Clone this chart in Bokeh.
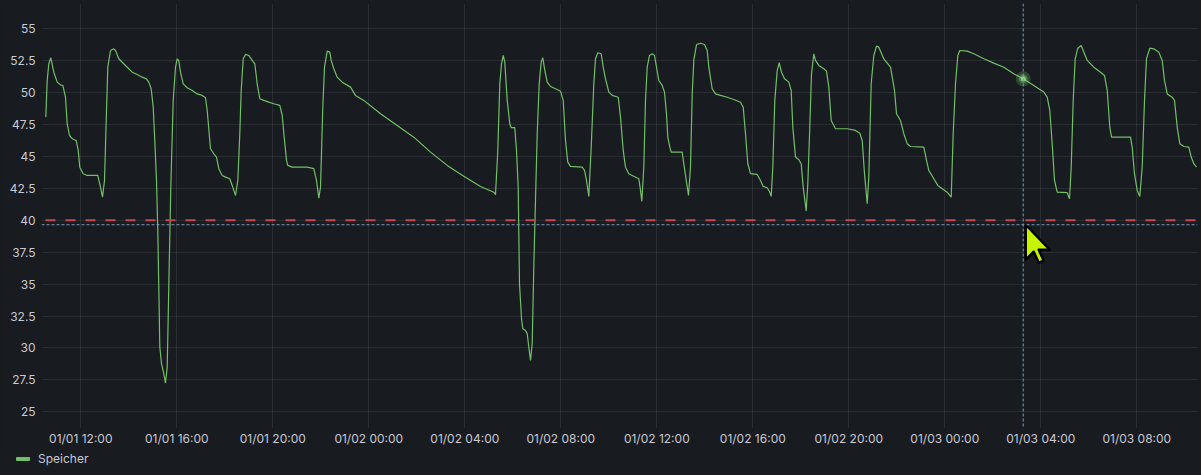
import pandas as pd
from bokeh.plotting import figure
from bokeh.layouts import column
from bokeh.models import (FixedTicker, DatetimeTickFormatter, Span,
                          ColumnDataSource, Range1d, Div)
from bokeh.embed import file_html
from bokeh.resources import INLINE

# ---------------- data ----------------
YEAR = 2024
series_name = "Speicher"

# hours since 01/01 00:00
hours = [
    10.542, 10.600, 10.667, 10.750, 10.875, 11.017, 11.154, 11.250, 11.363, 11.433,
    11.529, 11.642, 11.808, 11.892, 11.958, 12.100, 12.267, 12.708, 12.821, 12.904,
    12.988, 13.071, 13.125, 13.238, 13.375, 13.446, 13.583, 13.725, 13.933, 14.142,
    14.350, 14.558, 14.738, 14.833, 14.933, 15.017, 15.083, 15.154, 15.208, 15.250,
    15.292, 15.363, 15.458, 15.529, 15.600, 15.642, 15.696, 15.750, 15.850, 15.946,
    16.017, 16.083, 16.154, 16.267, 16.433, 16.642, 16.850, 17.058, 17.196, 17.267,
    17.404, 17.542, 17.654, 17.750, 17.892, 18.029, 18.208, 18.308, 18.446, 18.542,
    18.625, 18.683, 18.767, 18.863, 19.000, 19.142, 19.250, 19.350, 19.458, 19.625,
    19.833, 20.042, 20.292, 20.392, 20.488, 20.571, 20.625, 20.808, 21.433, 21.708,
    21.821, 21.917, 21.988, 22.083, 22.154, 22.267, 22.375, 22.433, 22.542, 22.683,
    22.892, 23.238, 23.446, 23.792, 24.488, 25.183, 25.875, 26.571, 27.267, 27.958,
    28.654, 29.208, 29.279, 29.375, 29.458, 29.529, 29.600, 29.667, 29.767, 29.875,
    29.933, 30.083, 30.154, 30.225, 30.279, 30.363, 30.417, 30.529, 30.600, 30.667,
    30.738, 30.808, 30.875, 30.946, 31.017, 31.100, 31.183, 31.250, 31.321, 31.433,
    31.571, 31.779, 31.988, 32.100, 32.196, 32.292, 32.404, 32.892, 32.988, 33.071,
    33.167, 33.267, 33.375, 33.446, 33.542, 33.683, 33.767, 33.863, 34.000, 34.142,
    34.392, 34.488, 34.600, 34.696, 34.833, 34.975, 35.250, 35.321, 35.375, 35.458,
    35.529, 35.600, 35.696, 35.808, 35.904, 35.988, 36.083, 36.225, 36.321, 36.404,
    36.458, 36.542, 36.600, 37.058, 37.125, 37.238, 37.321, 37.404, 37.475, 37.542,
    37.654, 37.821, 37.988, 38.100, 38.167, 38.308, 38.446, 38.654, 38.933, 39.208,
    39.488, 39.600, 39.696, 39.792, 39.904, 40.183, 40.321, 40.433, 40.600, 40.708,
    40.767, 40.833, 40.917, 41.017, 41.100, 41.196, 41.321, 41.500, 41.600, 41.667,
    41.779, 41.917, 42.017, 42.100, 42.225, 42.292, 42.375, 42.446, 42.542, 42.613,
    42.750, 42.958, 43.071, 43.167, 43.267, 43.446, 43.933, 44.279, 44.458, 44.558,
    44.654, 44.767, 44.833, 44.933, 45.042, 45.154, 45.250, 45.458, 45.738, 45.904,
    45.988, 46.154, 46.292, 46.433, 46.571, 47.125, 47.238, 47.333, 47.542, 47.708,
    47.892, 48.100, 48.267, 48.350, 48.446, 48.542, 48.625, 48.933, 49.208, 49.625,
    50.042, 50.458, 50.875, 51.267, 51.708, 52.125, 52.267, 52.375, 52.475, 52.571,
    52.683, 53.100, 53.196, 53.267, 53.350, 53.433, 53.542, 53.683, 53.767, 53.933,
    54.208, 54.488, 54.654, 54.767, 54.875, 54.946, 55.738, 55.808, 55.904, 56.017,
    56.125, 56.225, 56.321, 56.404, 56.542, 56.708, 56.917, 57.058, 57.154, 57.267,
    57.475, 57.571, 57.683, 57.792, 57.958, 58.167, 58.267, 58.375, 58.488,
]

speicher = [
    48.08, 50.95, 52.26, 52.73, 51.60, 50.82, 50.61, 50.56, 49.64, 47.56,
    46.64, 46.39, 46.25, 45.47, 44.16, 43.65, 43.51, 43.51, 42.60, 41.81,
    43.12, 48.60, 51.99, 53.30, 53.43, 53.30, 52.65, 52.38, 51.99, 51.60,
    51.42, 51.21, 51.08, 50.82, 50.30, 48.86, 46.25, 43.12, 39.20, 34.77,
    30.07, 28.77, 27.98, 27.25, 28.50, 32.42, 37.64, 42.57, 49.39, 51.99,
    52.65, 52.50, 51.60, 50.69, 50.38, 50.17, 49.90, 49.78, 49.60, 48.60,
    45.60, 45.21, 44.95, 44.04, 43.51, 43.38, 43.25, 42.73, 41.94, 43.12,
    46.78, 50.17, 52.65, 52.99, 52.91, 52.52, 52.26, 50.69, 49.52, 49.39,
    49.25, 49.13, 49.00, 48.21, 46.25, 44.69, 44.30, 44.16, 44.16, 44.04,
    43.12, 41.73, 42.60, 48.86, 51.99, 53.25, 53.17, 52.52, 51.87, 51.21,
    50.82, 50.43, 49.78, 49.39, 48.34, 47.43, 46.51, 45.34, 44.30, 43.44,
    42.65, 42.20, 42.00, 45.47, 50.69, 52.26, 52.91, 52.39, 49.39, 47.56,
    47.25, 47.25, 45.47, 42.60, 35.03, 32.29, 31.51, 31.37, 31.12, 30.07,
    29.03, 30.33, 36.33, 41.60, 46.78, 50.69, 52.39, 52.73, 51.87, 50.82,
    50.48, 50.30, 50.11, 49.39, 46.25, 44.55, 44.22, 44.16, 43.91, 43.12,
    41.87, 45.73, 50.69, 52.65, 53.12, 53.04, 51.99, 51.08, 50.04, 49.78,
    49.64, 48.08, 45.47, 44.16, 43.65, 43.51, 43.25, 42.34, 41.48, 44.16,
    49.39, 51.99, 52.91, 53.04, 52.91, 51.99, 50.95, 50.56, 50.04, 48.34,
    46.51, 45.73, 45.34, 45.34, 44.43, 42.99, 41.94, 44.16, 49.90, 52.52,
    53.77, 53.87, 53.77, 53.30, 51.99, 50.30, 49.90, 49.78, 49.64, 49.46,
    49.25, 48.86, 46.78, 44.43, 43.65, 43.59, 43.12, 42.65, 42.55, 42.20,
    41.87, 44.16, 49.39, 51.73, 52.34, 51.60, 51.08, 50.82, 50.17, 47.30,
    44.95, 44.74, 44.43, 42.60, 40.72, 42.86, 47.30, 51.47, 53.04, 52.52,
    52.13, 51.87, 51.68, 50.43, 47.82, 47.17, 47.17, 47.04, 46.82, 46.25,
    43.65, 41.30, 43.38, 50.69, 52.91, 53.64, 53.56, 52.65, 51.99, 50.17,
    48.34, 47.82, 46.78, 46.00, 45.78, 45.73, 44.69, 43.91, 43.25, 42.73,
    42.47, 42.20, 41.81, 46.78, 50.69, 52.91, 53.30, 53.25, 53.04, 52.65,
    52.31, 51.99, 51.47, 51.08, 50.56, 50.04, 49.64, 48.60, 46.00, 43.12,
    42.20, 42.16, 41.69, 44.16, 49.39, 52.65, 53.48, 53.69, 53.30, 52.52,
    51.99, 51.60, 51.34, 50.17, 47.30, 46.51, 46.51, 45.73, 43.65, 42.34,
    41.87, 44.16, 49.39, 52.65, 53.48, 53.43, 53.17, 52.52, 50.95, 49.90,
    49.64, 49.39, 47.30, 46.00, 45.78, 45.73, 44.95, 44.43, 44.16,
]

y_ticks = [25, 27.5, 30, 32.5, 35, 37.5, 40, 42.5, 45, 47.5, 50, 52.5, 55]
x_tick_labels = ["01/01 12:00", "01/01 16:00", "01/01 20:00", "01/02 00:00",
                 "01/02 04:00", "01/02 08:00", "01/02 12:00", "01/02 16:00",
                 "01/02 20:00", "01/03 00:00", "01/03 04:00", "01/03 08:00"]

threshold = 40.0
hover_hour = 51.267      # crosshair position (01/03 ~03:16)
hover_value = 51.08      # value at hovered point
cursor_value = 39.65     # mouse y position
x_view_hours = (10.3625, 58.529)
y_view = (23.69, 56.98)

# ---------------- helpers ----------------
base = pd.Timestamp(f"{YEAR}-01-01 00:00")
MS_H = 3600 * 1000.0
base_ms = base.value / 1e6


def h2ms(h):
    return base_ms + h * MS_H


xs = [h2ms(h) for h in hours]
tick_ms = [pd.Timestamp(pd.to_datetime(f"{YEAR}/{l}", format="%Y/%m/%d %H:%M")).value / 1e6
           for l in x_tick_labels]

W = 1201
FW, FH = 1156, 425
TOP_H = 447          # main chart height
LEG_H = 475 - TOP_H  # legend strip height
BG = "#181b1f"
TXT = "#c8c9d3"
GREEN = "#73bf69"
FONT = "Inter"
DARK_STYLE = {"background-color": BG}

p_main = figure(x_axis_type="datetime", width=W, height=TOP_H,
                frame_width=FW, frame_height=FH,
                min_border_left=41, min_border_right=4, min_border_top=3,
                min_border_bottom=TOP_H - FH - 3,
                output_backend="svg", toolbar_location=None,
                x_range=Range1d(h2ms(x_view_hours[0]), h2ms(x_view_hours[1])),
                y_range=Range1d(*y_view), styles=DARK_STYLE)
p_main.background_fill_color = BG
p_main.border_fill_color = BG
p_main.outline_line_color = None

# axes
for ax in (p_main.xaxis[0], p_main.yaxis[0]):
    ax.axis_line_color = None
    ax.major_tick_line_color = None
    ax.minor_tick_line_color = None
    ax.major_tick_out = 0
    ax.major_tick_in = 0
    ax.minor_tick_out = 0
    ax.major_label_text_color = TXT
    ax.major_label_text_font = FONT
    ax.major_label_text_font_size = "12px"

p_main.yaxis.ticker = FixedTicker(ticks=y_ticks)
p_main.yaxis.major_label_overrides = {t: (str(int(t)) if float(t).is_integer() else str(t))
                                      for t in y_ticks}
p_main.yaxis.major_label_standoff = 6
p_main.xaxis.ticker = FixedTicker(ticks=tick_ms)
fmt = "%m/%d %H:%M"
p_main.xaxis.formatter = DatetimeTickFormatter(milliseconds=fmt, seconds=fmt, minsec=fmt,
                                               minutes=fmt, hourmin=fmt, hours=fmt, days=fmt,
                                               months=fmt, years=fmt)
p_main.xaxis.major_label_standoff = 2

for g in (p_main.xgrid[0], p_main.ygrid[0]):
    g.grid_line_color = "#ccccdc"
    g.grid_line_alpha = 0.1
    g.grid_line_width = 1

# threshold + crosshair
p_main.add_layout(Span(location=threshold, dimension="width", line_color="#c4474f",
                       line_width=2, line_dash="10 10", line_dash_offset=16))
p_main.add_layout(Span(location=h2ms(hover_hour), dimension="height", line_color="#7f9bbb",
                       line_width=1, line_dash="3 2"))
p_main.add_layout(Span(location=cursor_value, dimension="width",
                       line_color="#7f9bbb", line_width=1, line_dash="3 2"))

# series
src = ColumnDataSource(dict(x=xs, y=speicher))
p_main.line("x", "y", source=src, line_color=GREEN, line_width=1.2)

# hover point glow
hp = ColumnDataSource(dict(x=[h2ms(hover_hour)], y=[hover_value]))
p_main.scatter("x", "y", source=hp, size=15, fill_color=GREEN, fill_alpha=0.25, line_color=None)
p_main.scatter("x", "y", source=hp, size=9, fill_color=GREEN, fill_alpha=0.45, line_color=None)
p_main.scatter("x", "y", source=hp, size=5, fill_color="#9fdc94", fill_alpha=0.8, line_color=None)

# mouse cursor arrow (decoration, px offsets from tip)
xpp = (h2ms(x_view_hours[1]) - h2ms(x_view_hours[0])) / FW
ypp = (y_view[1] - y_view[0]) / FH
arrow_px = [(0, 0), (0, 35), (8, 27), (13, 38), (18, 36), (13, 25), (24, 25)]
tip_x = h2ms(hover_hour) + 2.5 * xpp
ax_ = [tip_x + dx * xpp for dx, dy in arrow_px]
ay_ = [cursor_value - dy * ypp for dx, dy in arrow_px]
p_main.patch(ax_, ay_, fill_color="#c6f400", line_color="#000000", line_width=2.5,
             line_join="round")

# ---------------- legend strip ----------------
legend_html = (
    f'<div style="position:relative;width:{W}px;height:{LEG_H}px;'
    f'font-family:Inter,sans-serif;font-size:12px;color:{TXT};">'
    f'<span style="position:absolute;left:16px;top:9px;width:14px;height:4px;'
    f'background:{GREEN};border-radius:1px;"></span>'
    f'<span style="position:absolute;left:38px;top:4px;line-height:14px;'
    f'white-space:nowrap;">{series_name}</span></div>'
)
leg = Div(text=legend_html, width=W, height=LEG_H, margin=0,
          styles={"background-color": BG, "padding": "0", "margin": "0"})

p = column(p_main, leg, spacing=0, styles=DARK_STYLE)

open("out.html", "w").write(file_html(p, INLINE))
